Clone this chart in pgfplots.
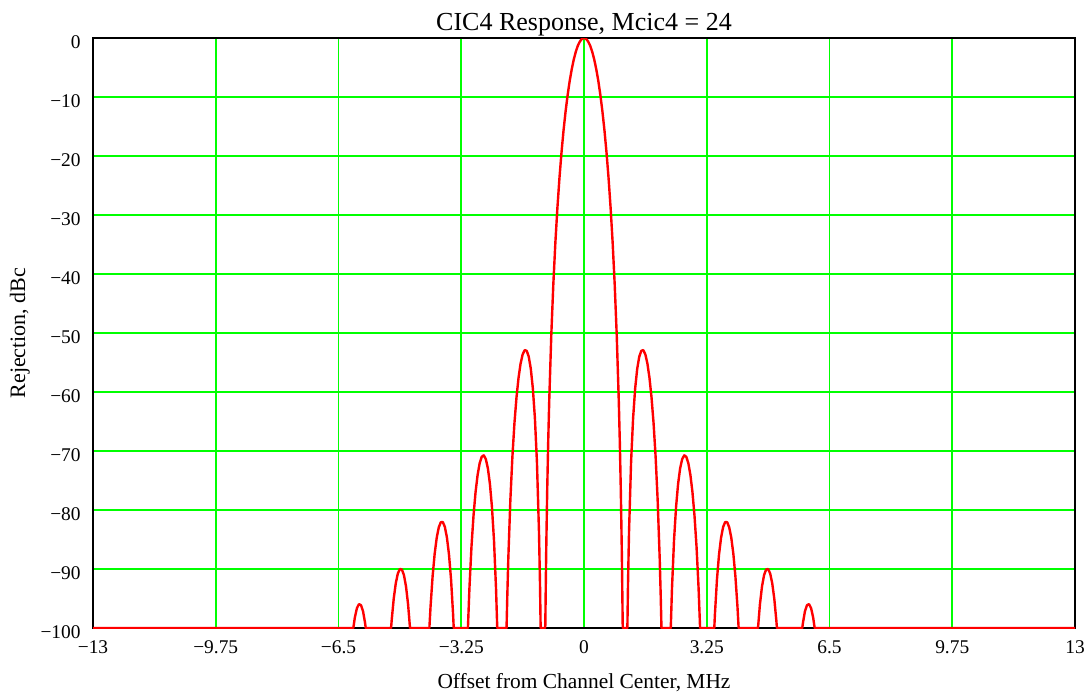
\documentclass[border=0pt]{standalone}
\usepackage{fontspec}
\setmainfont{Liberation Serif}
\usepackage{pgfplots}
\pgfplotsset{compat=1.18}
\definecolor{gridgreen}{RGB}{0,255,0}
\begin{document}
\begin{tikzpicture}
\begin{axis}[
  scale only axis,
  width=491pt, height=295pt,
  xmin=-13, xmax=13, ymin=-100, ymax=0,
  xtick={-13,-9.75,-6.5,-3.25,0,3.25,6.5,9.75,13},
  xticklabels={−13,−9.75,−6.5,−3.25,0,3.25,6.5,9.75,13},
  ytick={-100,-90,-80,-70,-60,-50,-40,-30,-20,-10,0},
  yticklabels={−100,−90,−80,−70,−60,−50,−40,−30,−20,−10,0},
  major tick length=0pt,
  grid=major,
  major grid style={gridgreen, line width=0.9pt},
  axis line style={black, line width=1pt},
  tick label style={font=\fontsize{9.7pt}{11pt}\selectfont},
  xticklabel style={anchor=base, inner sep=0pt, yshift=-12.5pt},
  yticklabel style={anchor=east, inner sep=0pt, xshift=-6pt, yshift=-2pt},
  title={CIC4 Response, Mcic4 = 24},
  title style={at={(axis description cs:0.5,1.0108)}, anchor=base, inner sep=0pt, yshift=-5.5pt, font=\fontsize{13pt}{15pt}\selectfont},
  xlabel={Offset from Channel Center, MHz},
  xlabel style={at={(axis description cs:0.5,-0.1017)}, anchor=base, inner sep=0pt, font=\fontsize{10.7pt}{12pt}\selectfont},
  ylabel={Rejection, dBc},
  ylabel style={at={(axis description cs:-0.0745,0.5)}, anchor=center, inner sep=0pt, font=\fontsize{11pt}{12pt}\selectfont},
]
\addplot[red, line width=1.2pt, line join=round] coordinates {
(-13,-100)
(-6.1070,-100)
(-6.0667,-98.20)
(-6.0125,-96.64)
(-5.9583,-95.95)
(-5.9042,-96.12)
(-5.8500,-97.16)
(-5.7958,-99.16)
(-5.7792,-100)
(-5.1079,-100)
(-5.0917,-98.68)
(-5.0375,-95.01)
(-4.9833,-92.41)
(-4.9292,-90.77)
(-4.8750,-90.00)
(-4.8208,-90.09)
(-4.7667,-91.05)
(-4.7125,-92.97)
(-4.6583,-95.96)
(-4.6069,-100)
(-4.0939,-100)
(-4.0625,-96.33)
(-4.0083,-91.22)
(-3.9542,-87.43)
(-3.9000,-84.72)
(-3.8458,-82.96)
(-3.7917,-82.07)
(-3.7375,-82.04)
(-3.6833,-82.88)
(-3.6292,-84.67)
(-3.5750,-87.53)
(-3.5208,-91.71)
(-3.4667,-97.62)
(-3.4493,-100)
(-3.0734,-100)
(-3.0333,-93.22)
(-2.9792,-86.20)
(-2.9250,-80.92)
(-2.8708,-76.94)
(-2.8167,-74.04)
(-2.7625,-72.07)
(-2.7083,-70.98)
(-2.6542,-70.73)
(-2.6000,-71.36)
(-2.5458,-72.91)
(-2.4917,-75.54)
(-2.4375,-79.47)
(-2.3833,-85.14)
(-2.3292,-93.34)
(-2.2972,-100)
(-2.0508,-100)
(-2.0313,-94.62)
(-2.0042,-88.24)
(-1.9500,-78.33)
(-1.8958,-70.95)
(-1.8417,-65.28)
(-1.7875,-60.91)
(-1.7333,-57.59)
(-1.6792,-55.19)
(-1.6250,-53.64)
(-1.5708,-52.90)
(-1.5167,-53.01)
(-1.4625,-54.02)
(-1.4083,-56.08)
(-1.3542,-59.41)
(-1.3000,-64.42)
(-1.2458,-71.92)
(-1.1917,-83.76)
(-1.1646,-92.68)
(-1.1483,-100)
(-1.0256,-100)
(-1.0021,-87.52)
(-0.9750,-76.83)
(-0.9479,-68.43)
(-0.9208,-61.49)
(-0.8667,-50.42)
(-0.8125,-41.76)
(-0.7583,-34.69)
(-0.7042,-28.77)
(-0.6500,-23.73)
(-0.5958,-19.40)
(-0.5417,-15.66)
(-0.4875,-12.44)
(-0.4333,-9.66)
(-0.3792,-7.29)
(-0.3250,-5.30)
(-0.2708,-3.64)
(-0.2167,-2.31)
(-0.1625,-1.29)
(-0.1083,-0.57)
(-0.0542,-0.14)
(0,0)
(0.0542,-0.14)
(0.1083,-0.57)
(0.1625,-1.29)
(0.2167,-2.31)
(0.2708,-3.64)
(0.3250,-5.30)
(0.3792,-7.29)
(0.4333,-9.66)
(0.4875,-12.44)
(0.5417,-15.66)
(0.5958,-19.40)
(0.6500,-23.73)
(0.7042,-28.77)
(0.7583,-34.69)
(0.8125,-41.76)
(0.8667,-50.42)
(0.9208,-61.49)
(0.9479,-68.43)
(0.9750,-76.83)
(1.0021,-87.52)
(1.0256,-100)
(1.1483,-100)
(1.1646,-92.68)
(1.1917,-83.76)
(1.2458,-71.92)
(1.3000,-64.42)
(1.3542,-59.41)
(1.4083,-56.08)
(1.4625,-54.02)
(1.5167,-53.01)
(1.5708,-52.90)
(1.6250,-53.64)
(1.6792,-55.19)
(1.7333,-57.59)
(1.7875,-60.91)
(1.8417,-65.28)
(1.8958,-70.95)
(1.9500,-78.33)
(2.0042,-88.24)
(2.0313,-94.62)
(2.0508,-100)
(2.2972,-100)
(2.3292,-93.34)
(2.3833,-85.14)
(2.4375,-79.47)
(2.4917,-75.54)
(2.5458,-72.91)
(2.6000,-71.36)
(2.6542,-70.73)
(2.7083,-70.98)
(2.7625,-72.07)
(2.8167,-74.04)
(2.8708,-76.94)
(2.9250,-80.92)
(2.9792,-86.20)
(3.0333,-93.22)
(3.0734,-100)
(3.4493,-100)
(3.4667,-97.62)
(3.5208,-91.71)
(3.5750,-87.53)
(3.6292,-84.67)
(3.6833,-82.88)
(3.7375,-82.04)
(3.7917,-82.07)
(3.8458,-82.96)
(3.9000,-84.72)
(3.9542,-87.43)
(4.0083,-91.22)
(4.0625,-96.33)
(4.0939,-100)
(4.6069,-100)
(4.6583,-95.96)
(4.7125,-92.97)
(4.7667,-91.05)
(4.8208,-90.09)
(4.8750,-90.00)
(4.9292,-90.77)
(4.9833,-92.41)
(5.0375,-95.01)
(5.0917,-98.68)
(5.1079,-100)
(5.7792,-100)
(5.7958,-99.16)
(5.8500,-97.16)
(5.9042,-96.12)
(5.9583,-95.95)
(6.0125,-96.64)
(6.0667,-98.20)
(6.1070,-100)
(13,-100)
};
\end{axis}
\pgfresetboundingbox
\path (-46.5pt,-32.5pt) rectangle (498.5pt,314pt);
\end{tikzpicture}
\end{document}
